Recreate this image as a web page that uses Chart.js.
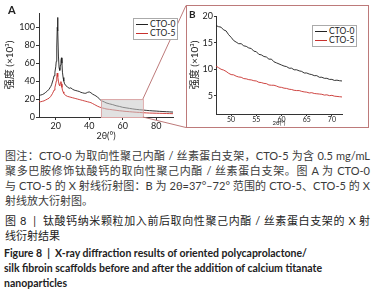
<!DOCTYPE html>
<html>
<head>
<meta charset="utf-8">
<script src="https://cdn.jsdelivr.net/npm/chart.js@4"></script>
<style>
  body { margin: 0; width: 379px; height: 297px; background: #fff; position: relative; overflow: hidden;
         font-family: Lato, "Noto Sans CJK SC", sans-serif; color: #333; }
  #chartA { position: absolute; left: 0; top: 0; }
  #boxB { position: absolute; left: 186px; top: 5px; width: 181px; height: 121px; border: 1px solid #bd7a7a; }
  #chartB { position: absolute; left: 0; top: 0; }
  .tag { position: absolute; font-weight: bold; font-size: 11px; color: #222; }
  .legend { position: absolute; background: #fff; border: 1px solid #aaa; font-size: 8.5px; color: #222; padding: 1px 2px; }
  .legend div { height: 9px; line-height: 9px; white-space: nowrap; }
  .legend i { display: inline-block; width: 12px; height: 0; border-top: 1px solid; vertical-align: middle; margin-right: 2px; }
  .cap { position: absolute; left: 5px; width: 365px; font-size: 11px; line-height: 15px; }
  .j { text-align: justify; text-align-last: justify; }
  #p1 { top: 148px; color: #3a3a3a; }
  #p2 { top: 213px; color: #222; }
  #p3 { top: 246px; left: 4px; font-weight: bold; font-size: 10.5px; color: #222; white-space: nowrap; }
</style>
</head>
<body>
<canvas id="chartA" width="188" height="145"></canvas>
<div class="tag" style="left:8px;top:3px;">A</div>
<div class="legend" style="left:133px;top:18px;">
  <div><i style="color:#222"></i>CTO-0</div>
  <div><i style="color:#c8312e"></i>CTO-5</div>
</div>
<div id="boxB"><canvas id="chartB" width="181" height="121"></canvas></div>
<div class="tag" style="left:189px;top:8px;font-size:10px;">B</div>
<div class="legend" style="left:312px;top:25px;">
  <div><i style="color:#222"></i>CTO-0</div>
  <div><i style="color:#c8312e"></i>CTO-5</div>
</div>

<div class="cap" id="p1">
  <div class="j">图注：CTO-0 为取向性聚己内酯 / 丝素蛋白支架，CTO-5 为含 0.5 mg/mL</div>
  <div class="j">聚多巴胺修饰钛酸钙的取向性聚己内酯 / 丝素蛋白支架。图 A 为 CTO-0</div>
  <div class="j">与 CTO-5 的 X 射线衍射图：B 为 2θ=37°–72° 范围的 CTO-5、CTO-5 的 X</div>
  <div>射线放大衍射图。</div>
</div>
<div class="cap" id="p2">
  <div class="j">图 8 &nbsp;|&nbsp; 钛酸钙纳米颗粒加入前后取向性聚己内酯 / 丝素蛋白支架的 X 射</div>
  <div>线衍射结果</div>
</div>
<div class="cap" id="p3">
  <div>Figure 8 &nbsp;|&nbsp; X-ray diffraction results of oriented polycaprolactone/</div>
  <div>silk fibroin scaffolds before and after the addition of calcium titanate</div>
  <div>nanoparticles</div>
</div>

<script>
// panel A: full scan
const thetaA = [10, 11, 12, 13, 14, 15, 16, 17, 17.5, 18, 18.5, 19, 19.5, 20, 20.3, 20.6, 20.9, 21.1, 21.3, 21.6,
  22, 22.4, 22.8, 23.1, 23.4, 23.7, 24, 24.4, 24.8, 25.3, 26, 27, 28, 29, 30, 31, 32, 33, 34, 35, 36, 37, 38, 39,
  40, 41, 42, 43, 44, 45, 46, 47, 48, 49, 50, 52, 54, 56, 58, 60, 62, 64, 66, 68, 70, 72, 74, 76, 78, 80, 82, 84,
  86, 88, 90];
const cto0A = [24, 24.5, 25, 26, 27.5, 29, 31, 34, 36, 39, 42, 46, 50, 56, 62, 78, 100, 111, 96, 68,
  55, 52, 58, 63, 66, 60, 50, 44, 40, 37, 35, 33.5, 32, 32.5, 31, 30, 29.5, 29, 28.5, 27.5, 27, 26.5, 26.5, 27.5,
  28, 27, 25.5, 24.5, 23.5, 22, 20.5, 18.2, 17.6, 16.8, 15.8, 14.7, 13.8, 12.6, 11.8, 10.8, 10.2, 9.6, 9.0, 8.5,
  8.1, 7.8, 7.4, 7.1, 6.8, 6.6, 6.3, 6.1, 5.9, 5.7, 5.5];
const cto5A = [17, 17, 17.5, 18, 19, 20, 21, 23, 24.5, 26, 28, 30, 33, 37, 40, 45, 49, 48, 45, 40,
  36, 35, 38, 39.5, 37, 33, 30, 28, 26.5, 25, 24, 23, 22.5, 22, 21.5, 21, 20.5, 20, 19.5, 19, 18.5, 18, 17.5, 17,
  16.5, 16, 15, 14, 13, 12, 11.2, 10.5, 10, 9.6, 9.0, 8.5, 8.0, 7.5, 7.0, 6.6, 6.2, 5.9, 5.6, 5.3, 5.1, 4.8, 4.6,
  4.4, 4.3, 4.2, 4.1, 4.0, 3.9, 3.8, 3.7];
const ticksAX = [20, 40, 60, 80];
const ticksAY = [0, 20, 40, 60, 80, 100];

// panel B: enlarged range
const thetaB = [47, 47.5, 48, 48.5, 49, 49.5, 50, 50.5, 51, 51.5, 52, 52.5, 53, 53.5, 54, 54.5, 55, 55.5, 56, 56.5,
  57, 57.5, 58, 58.5, 59, 59.5, 60, 60.5, 61, 61.5, 62, 62.5, 63, 63.5, 64, 64.5, 65, 65.5, 66, 66.5, 67, 67.5, 68,
  68.5, 69, 69.5, 70, 70.5, 71, 71.5, 72];
const cto0B = [18.2, 18.0, 17.9, 17.4, 17.2, 16.5, 16.0, 15.4, 15.1, 14.8, 14.8, 14.4, 14.3, 14.0, 13.9, 13.4, 13.3,
  12.8, 12.7, 12.4, 12.3, 11.9, 11.9, 11.4, 11.2, 11.0, 10.8, 10.6, 10.5, 10.2, 10.2, 9.9, 9.9, 9.7, 9.6, 9.3, 9.3,
  9.1, 9.0, 8.8, 8.8, 8.5, 8.5, 8.3, 8.3, 8.1, 8.1, 7.9, 7.95, 7.85, 7.8];
const cto5B = [10.6, 10.3, 10.0, 9.85, 9.6, 9.25, 9.0, 8.95, 8.7, 8.55, 8.5, 8.25, 8.2, 8.05, 8.0, 7.85, 7.8, 7.55,
  7.5, 7.35, 7.3, 7.05, 7.0, 7.0, 6.85, 6.65, 6.6, 6.45, 6.4, 6.25, 6.2, 6.05, 6.0, 6.0, 5.85, 5.75, 5.7, 5.55, 5.6,
  5.45, 5.4, 5.35, 5.3, 5.15, 5.2, 5.05, 5.1, 4.95, 4.9, 4.85, 4.8];
const ticksBX = [50, 55, 60, 65, 70];
const ticksBY = [5, 10, 15, 20];

const zoomX = [47, 72];
const zoomY = [0, 20];

const font = 'Lato, "Noto Sans CJK SC", sans-serif';
const axisColor = '#333';

function pts(xs, ys) {
  return xs.map((x, i) => ({ x: x, y: ys[i] }));
}

function line(label, d, color) {
  return { label: label, data: d, borderColor: color, borderWidth: 0.9, pointRadius: 0, tension: 0, fill: false };
}

function fixedTicks(values) {
  return (scale) => { scale.ticks = values.map(v => ({ value: v })); };
}

// gray window on A plus the two lines that lead to box B
const zoomWindow = {
  id: 'zoomWindow',
  afterDatasetsDraw(chart) {
    const { ctx, scales: { x, y } } = chart;
    const x0 = x.getPixelForValue(zoomX[0]), x1 = x.getPixelForValue(zoomX[1]);
    const y0 = y.getPixelForValue(zoomY[0]), y1 = y.getPixelForValue(zoomY[1]);
    ctx.save();
    ctx.fillStyle = 'rgba(200,200,200,0.55)';
    ctx.fillRect(x0, y1, x1 - x0, y0 - y1);
    ctx.strokeStyle = '#dba6a6';
    ctx.lineWidth = 1;
    ctx.strokeRect(x0 + 0.5, y1 + 0.5, x1 - x0, y0 - y1);
    const ca = chart.canvas.getBoundingClientRect();
    const bb = document.getElementById('boxB').getBoundingClientRect();
    const bx = bb.left - ca.left;
    ctx.strokeStyle = '#bd7a7a';
    ctx.beginPath();
    ctx.moveTo(x1, y1); ctx.lineTo(bx, bb.top - ca.top + 0.5);
    ctx.moveTo(x1, y0); ctx.lineTo(bx, bb.bottom - ca.top - 0.5);
    ctx.stroke();
    ctx.restore();
  }
};

new Chart(document.getElementById('chartA'), {
  type: 'line',
  data: { datasets: [line('CTO-0', pts(thetaA, cto0A), '#1e1e1e'), line('CTO-5', pts(thetaA, cto5A), '#c8312e')] },
  options: {
    responsive: false, animation: false, devicePixelRatio: 1,
    layout: { padding: { top: 13, right: 15, left: 0, bottom: 0 } },
    plugins: { legend: { display: false }, tooltip: { enabled: false } },
    scales: {
      x: {
        type: 'linear', min: 10, max: 90,
        afterFit: s => { s.height = 28; },
        afterBuildTicks: fixedTicks(ticksAX),
        border: { display: true, color: axisColor, width: 1 },
        grid: { drawOnChartArea: false, drawTicks: true, tickLength: 3, color: axisColor },
        ticks: { padding: 1, color: '#222', font: { family: font, size: 9 } },
        title: { display: true, text: '2θ(°)', color: '#222', padding: { top: 0, bottom: 3.5 }, font: { family: font, size: 9 } }
      },
      y: {
        min: 0, max: 116,
        afterFit: s => { s.width = 39; },
        afterBuildTicks: fixedTicks(ticksAY),
        border: { display: true, color: axisColor, width: 1 },
        grid: { drawOnChartArea: false, drawTicks: true, tickLength: 3, color: axisColor },
        ticks: { padding: 1, color: '#222', font: { family: font, size: 9 } },
        title: { display: true, text: '强度 (×10³)', color: '#222', padding: { top: 4, bottom: 0 }, font: { family: font, size: 10 } }
      }
    }
  },
  plugins: [zoomWindow]
});

new Chart(document.getElementById('chartB'), {
  type: 'line',
  data: { datasets: [line('CTO-0', pts(thetaB, cto0B), '#1e1e1e'), line('CTO-5', pts(thetaB, cto5B), '#c8312e')] },
  options: {
    responsive: false, animation: false, devicePixelRatio: 1,
    layout: { padding: { top: 10, right: 26, left: 0, bottom: 0 } },
    plugins: { legend: { display: false }, tooltip: { enabled: false } },
    scales: {
      x: {
        type: 'linear', min: zoomX[0], max: zoomX[1],
        afterFit: s => { s.height = 13; },
        afterBuildTicks: fixedTicks(ticksBX),
        border: { display: true, color: axisColor, width: 1 },
        grid: { drawOnChartArea: false, drawTicks: true, tickLength: 2, color: axisColor },
        ticks: { padding: 0, color: '#222', font: { family: font, size: 7 } },
        title: { display: true, text: '2θ(°)', color: '#222', padding: 0, font: { family: font, size: 6 } }
      },
      y: {
        min: 1.6, max: 20,
        afterFit: s => { s.width = 29; },
        afterBuildTicks: fixedTicks(ticksBY),
        border: { display: true, color: axisColor, width: 1 },
        grid: { drawOnChartArea: false, drawTicks: true, tickLength: 2, color: axisColor },
        ticks: { padding: 1, color: '#222', font: { family: font, size: 9 } },
        title: { display: true, text: '强度 (×10³)', color: '#222', padding: { top: 2, bottom: 0 }, font: { family: font, size: 10 } }
      }
    }
  }
});
</script>
</body>
</html>
